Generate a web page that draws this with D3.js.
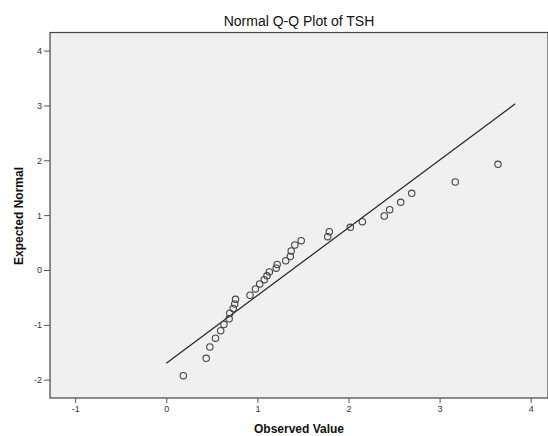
<!DOCTYPE html>
<html>
<head>
<meta charset="utf-8">
<script src="https://cdn.jsdelivr.net/npm/d3@7"></script>
<style>
  body { margin: 0; background: #fff; }
  text { font-family: "Liberation Sans", Arial, sans-serif; }
</style>
</head>
<body>
<div id="chart"></div>
<script>
// Data
var observedValues = [0.187, 0.438, 0.478, 0.540, 0.597, 0.633, 0.690, 0.697, 0.735, 0.751,
    0.760, 0.919, 0.979, 1.025, 1.075, 1.105, 1.131, 1.206, 1.217, 1.311,
    1.361, 1.371, 1.411, 1.481, 1.772, 1.789, 2.020, 2.152, 2.393, 2.452,
    2.573, 2.694, 3.172, 3.641];
var expectedNormal = [-1.927, -1.610, -1.404, -1.243, -1.107, -0.994, -0.890, -0.789, -0.702, -0.620,
    -0.534, -0.461, -0.346, -0.255, -0.177, -0.106, -0.036, 0.033, 0.100, 0.168,
    0.246, 0.346, 0.456, 0.534, 0.607, 0.698, 0.778, 0.881, 0.984, 1.099,
    1.234, 1.398, 1.604, 1.927];
var lineObserved = [0, 3.83];
var lineExpected = [-1.70, 3.03];
var xTicks = [-1, 0, 1, 2, 3, 4];
var yTicks = [-2, -1, 0, 1, 2, 3, 4];

// SVG Dimensions
var svgWidth = 548;
var svgHeight = 436;

// Plot frame
var frame = { left: 50, right: 548, top: 32.5, bottom: 398 };

var svg = d3.select("#chart")
    .append("svg")
    .attr("width", svgWidth)
    .attr("height", svgHeight);

// Scales
var xScale = d3.scaleLinear()
    .domain([-1.2766, 4.19])
    .range([frame.left, frame.right]);

var yScale = d3.scaleLinear()
    .domain([-2.334, 4.33])
    .range([frame.bottom, frame.top]);

// Background
svg.append("rect")
    .attr("x", frame.left)
    .attr("y", frame.top)
    .attr("width", frame.right - frame.left)
    .attr("height", frame.bottom - frame.top)
    .attr("fill", "#f0f0f0")
    .attr("stroke", "#444")
    .attr("stroke-width", 1.2);

// Axes (plain hyphen for negatives, like the original)
var bottomAxis = d3.axisBottom(xScale).tickValues(xTicks).tickFormat(d => String(d))
    .tickSize(5).tickSizeOuter(0).tickPadding(3);
var leftAxis = d3.axisLeft(yScale).tickValues(yTicks).tickFormat(d => String(d))
    .tickSize(6).tickSizeOuter(0).tickPadding(2);

var gx = svg.append("g")
    .attr("transform", `translate(0,${frame.bottom})`)
    .call(bottomAxis);

var gy = svg.append("g")
    .attr("transform", `translate(${frame.left},0)`)
    .call(leftAxis);

[gx, gy].forEach(function (g) {
    g.select(".domain").remove();
    g.selectAll("line").attr("stroke", "#555");
    g.selectAll("text")
        .attr("fill", "#333")
        .style("font-size", "9px")
        .style("font-family", "'Liberation Sans', Arial, sans-serif");
});

// Reference line
var lineData = lineObserved.map(function (d, i) { return [d, lineExpected[i]]; });
svg.append("path")
    .datum(lineData)
    .attr("d", d3.line().x(d => xScale(d[0])).y(d => yScale(d[1])))
    .attr("fill", "none")
    .attr("stroke", "#222")
    .attr("stroke-width", 1.2);

// Points
svg.append("g").selectAll("circle")
    .data(observedValues)
    .enter()
    .append("circle")
    .attr("cx", d => xScale(d))
    .attr("cy", (d, i) => yScale(expectedNormal[i]))
    .attr("r", 3.2)
    .attr("fill", "none")
    .attr("stroke", "#444")
    .attr("stroke-width", 1.1);

// Title
svg.append("text")
    .attr("x", (frame.left + frame.right) / 2)
    .attr("y", 26)
    .attr("text-anchor", "middle")
    .style("font-size", "14px")
    .attr("fill", "#111")
    .text("Normal Q-Q Plot of TSH");

// X Label
svg.append("text")
    .attr("x", (frame.left + frame.right) / 2)
    .attr("y", 433)
    .attr("text-anchor", "middle")
    .style("font-size", "12px")
    .style("font-weight", "bold")
    .attr("fill", "#111")
    .text("Observed Value");

// Y Label
svg.append("text")
    .attr("transform", "rotate(-90)")
    .attr("x", -216)
    .attr("y", 23)
    .attr("text-anchor", "middle")
    .style("font-size", "12px")
    .style("font-weight", "bold")
    .attr("fill", "#111")
    .text("Expected Normal");
</script>
</body>
</html>
